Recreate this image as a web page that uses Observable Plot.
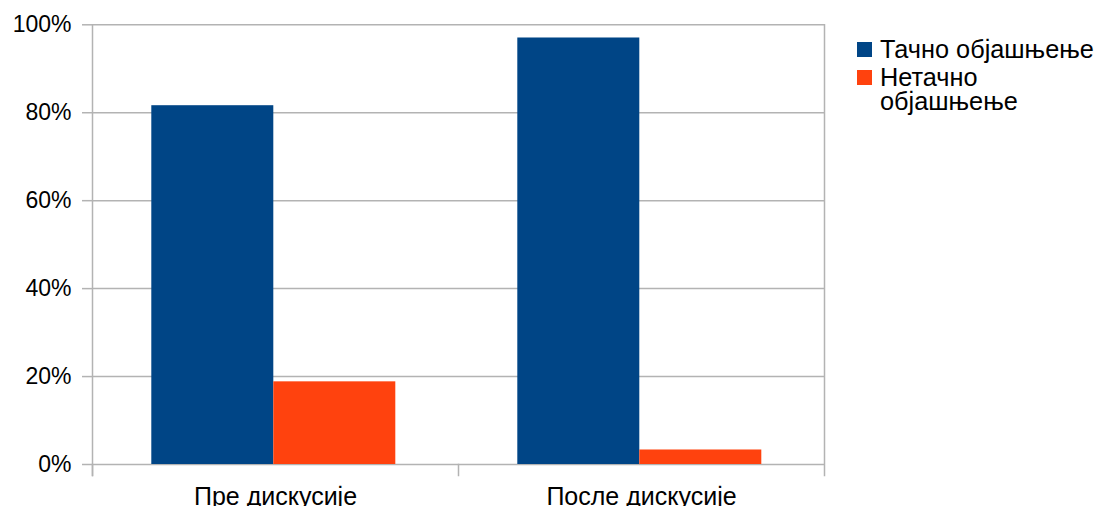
<!DOCTYPE html>
<html>
<head>
<meta charset="utf-8">
<script src="https://cdn.jsdelivr.net/npm/d3@7"></script>
<script src="https://cdn.jsdelivr.net/npm/@observablehq/plot@0.6"></script>
<style>
  body { margin: 0; background: #fff; font-family: "Liberation Sans", Arial, sans-serif; }
  #chart { position: relative; width: 1095px; height: 506px; overflow: hidden; }
  #chart svg { display: block; }
  .legend { position: absolute; left: 857px; top: 37px; font-size: 25.3px; line-height: 24px; color: #000; }
  .legend .row { display: flex; align-items: flex-start; margin-bottom: 3.6px; }
  .legend .swatch { width: 15px; height: 15px; flex: none; margin-top: 5px; margin-right: 8px; }
  .legend .label { width: 216px; }
</style>
</head>
<body>
<div id="chart"></div>
<script>
// Discussion stages (groups along the bottom)
const stages = ["Пре дискусије", "После дискусије"];
// Answer kinds (bars within each group)
const seriesNames = ["Тачно објашњење", "Нетачно објашњење"];
// Share of answers per stage, in percent
const correctShare = [81.6, 97.0];
const incorrectShare = [18.8, 3.3];
// Y axis ticks, in percent
const yTicks = [0, 20, 40, 60, 80, 100];
const palette = ["#004586", "#ff420e"];

const rows = stages.flatMap((stage, i) => [
  {stage, series: seriesNames[0], value: correctShare[i]},
  {stage, series: seriesNames[1], value: incorrectShare[i]}
]);

const W = 1095, H = 506;
const mTop = 24.3, mBottom = 42, mLeft = 91.7, mRight = 270;
const innerH = H - mTop - mBottom;
const lineColor = "#b3b3b3";
const lineWidth = 1.5;
const tickDrop = 11;

const chart = Plot.plot({
  width: W,
  height: H,
  marginTop: mTop,
  marginBottom: mBottom,
  marginLeft: mLeft,
  marginRight: mRight,
  style: {fontFamily: "'Liberation Sans', Arial, sans-serif", fontSize: "23px", color: "#000", background: "transparent", overflow: "visible"},
  fx: {domain: stages, padding: 0, label: null},
  x: {domain: seriesNames, paddingInner: 0, paddingOuter: 0.5, align: 0.49, axis: null},
  y: {domain: [0, 100], label: null},
  color: {domain: seriesNames, range: palette},
  marks: [
    Plot.gridY(yTicks, {stroke: lineColor, strokeOpacity: 1, strokeWidth: lineWidth}),
    // value axis line on the left and border on the right, both dropping below the base
    Plot.frame({anchor: "left", facetAnchor: "left", stroke: lineColor, strokeWidth: lineWidth, insetBottom: -tickDrop}),
    Plot.frame({anchor: "right", facetAnchor: "right", stroke: lineColor, strokeWidth: lineWidth, insetBottom: -tickDrop}),
    // short separators under the base line between stage groups
    Plot.frame({anchor: "left", stroke: lineColor, strokeWidth: lineWidth, insetTop: innerH, insetBottom: -tickDrop}),
    Plot.barY(rows, {fx: "stage", x: "series", y: "value", fill: "series"}),
    Plot.axisY({ticks: yTicks, tickFormat: d => d + "%", tickSize: 10, tickPadding: 11, stroke: lineColor, strokeWidth: lineWidth, fontSize: 23, label: null}),
    Plot.axisFx({anchor: "bottom", tickSize: 0, tickPadding: 23, fontSize: 25, label: null})
  ]
});

const root = document.getElementById("chart");
root.appendChild(chart);

// Legend listing the answer kinds with their colours
const legend = document.createElement("div");
legend.className = "legend";
seriesNames.forEach((name, i) => {
  const row = document.createElement("div");
  row.className = "row";
  const sw = document.createElement("span");
  sw.className = "swatch";
  sw.style.background = palette[i];
  const label = document.createElement("span");
  label.className = "label";
  label.textContent = name;
  row.appendChild(sw);
  row.appendChild(label);
  legend.appendChild(row);
});
root.appendChild(legend);
</script>
</body>
</html>
